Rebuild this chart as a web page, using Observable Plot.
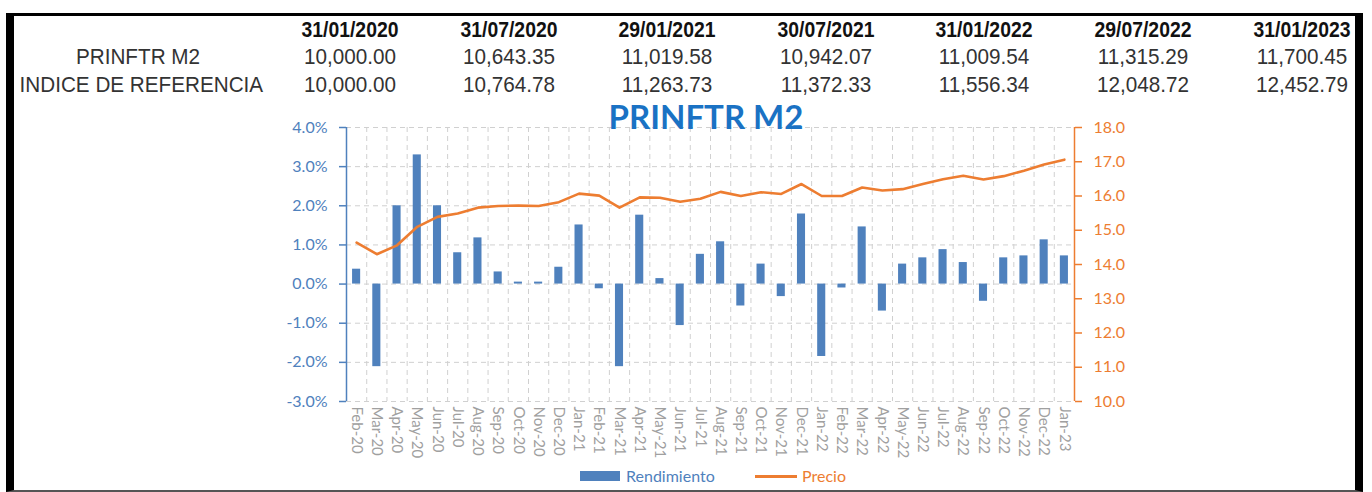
<!DOCTYPE html>
<html>
<head>
<meta charset="utf-8">
<script src="https://cdn.jsdelivr.net/npm/d3@7"></script>
<script src="https://cdn.jsdelivr.net/npm/@observablehq/plot@0.6"></script>
<style>
  html, body { margin: 0; padding: 0; background: #fff; }
  #page { position: relative; width: 1372px; height: 492px; overflow: hidden; background: #fff; }
  #chart { position: absolute; left: 0; top: 0; }
  #frame { position: absolute; left: 6px; top: 13px; width: 1357px; height: 479px; box-sizing: border-box;
           border-left: 8px solid #000; border-right: 8px solid #000; border-top: 3px solid #000; border-bottom: 2px solid #555; pointer-events: none; }
  .cell { position: absolute; width: 160px; text-align: center; font-family: "Liberation Sans", Arial, sans-serif;
          font-size: 22px; line-height: 28px; color: #333; white-space: nowrap; transform: scaleX(0.94); transform-origin: 50% 50%; }
  .hdr { font-weight: bold; color: #111; transform: scaleX(0.88); }
  .rowlab { width: 252px; }
  #title { position: absolute; left: 506px; width: 400px; top: 96px; text-align: center; font-family: Lato, sans-serif; font-weight: bold;
           font-size: 33px; line-height: 40px; color: #1a72c4; }
  .leg { position: absolute; font-family: Lato, sans-serif; font-size: 16px; line-height: 18px; }
</style>
</head>
<body>
<div id="page">
  <div id="chart"></div>
  <div id="table"></div>
  <div id="title">PRINFTR M2</div>
  <div id="legend"></div>
  <div id="frame"></div>
</div>
<script>
// ---- Data ----
const fechas = ["31/01/2020", "31/07/2020", "29/01/2021", "30/07/2021", "31/01/2022", "29/07/2022", "31/01/2023"];
const rowLabels = ["PRINFTR M2", "INDICE DE REFERENCIA"];
const fondoValores = [10000.00, 10643.35, 11019.58, 10942.07, 11009.54, 11315.29, 11700.45];
const indiceValores = [10000.00, 10764.78, 11263.73, 11372.33, 11556.34, 12048.72, 12452.79];

const months = ["Feb-20","Mar-20","Apr-20","May-20","Jun-20","Jul-20","Aug-20","Sep-20","Oct-20","Nov-20","Dec-20",
  "Jan-21","Feb-21","Mar-21","Apr-21","May-21","Jun-21","Jul-21","Aug-21","Sep-21","Oct-21","Nov-21","Dec-21",
  "Jan-22","Feb-22","Mar-22","Apr-22","May-22","Jun-22","Jul-22","Aug-22","Sep-22","Oct-22","Nov-22","Dec-22","Jan-23"];
// Rendimiento (%), left axis
const rendimiento = [0.38, -2.11, 2.00, 3.30, 2.00, 0.80, 1.18, 0.31, 0.05, 0.05, 0.43,
  1.51, -0.12, -2.11, 1.76, 0.14, -1.06, 0.76, 1.08, -0.56, 0.51, -0.32, 1.79,
  -1.85, -0.10, 1.46, -0.69, 0.51, 0.67, 0.88, 0.55, -0.44, 0.67, 0.72, 1.13, 0.72];
// Precio, right axis
const precio = [14.64, 14.30, 14.56, 15.10, 15.39, 15.49, 15.66, 15.71, 15.72, 15.71, 15.82,
  16.07, 16.01, 15.66, 15.96, 15.95, 15.83, 15.92, 16.12, 16.00, 16.11, 16.06, 16.35,
  16.00, 16.00, 16.25, 16.16, 16.20, 16.35, 16.49, 16.59, 16.48, 16.58, 16.74, 16.92, 17.06];

const leftTicks = [-3, -2, -1, 0, 1, 2, 3, 4];
const rightTicks = [10, 11, 12, 13, 14, 15, 16, 17, 18];

// ---- Colors ----
const BLUE = "#4f81bd";
const ORANGE = "#ed7d31";
const GRID = "#d0d0d0";

// ---- Table ----
const fmt = d3.format(",.2f");
const table = document.getElementById("table");
function addCell(text, cls, left, top) {
  const el = document.createElement("div");
  el.className = "cell " + cls;
  el.textContent = text;
  el.style.left = left + "px";
  el.style.top = top + "px";
  table.appendChild(el);
}
const colCenter = i => 350 + i * 158.6;
const rowTops = [16, 42.5, 70.5];
fechas.forEach((f, i) => addCell(f, "hdr", colCenter(i) - 80, rowTops[0]));
addCell(rowLabels[0], "rowlab", 12, rowTops[1]);
addCell(rowLabels[1], "rowlab", 12, rowTops[2]);
fondoValores.forEach((v, i) => addCell(fmt(v), "", colCenter(i) - 80, rowTops[1]));
indiceValores.forEach((v, i) => addCell(fmt(v), "", colCenter(i) - 80, rowTops[2]));

// ---- Chart ----
const W = 1372, H = 492;
const mL = 346, mR = 298, mT = 127, mB = 91;
const step = (W - mL - mR) / months.length;
const toLeft = d3.scaleLinear([10, 18], [-3, 4]);
const data = months.map((m, i) => ({month: m, r: rendimiento[i], p: precio[i]}));

const chart = Plot.plot({
  width: W, height: H,
  marginLeft: mL, marginRight: mR, marginTop: mT, marginBottom: mB,
  style: {fontFamily: "Lato, sans-serif", fontSize: "15px", background: "transparent", overflow: "visible"},
  x: {type: "band", domain: months, paddingInner: 0.6, paddingOuter: 0.3, round: false, axis: null, label: null},
  y: {domain: [-3, 4], axis: null, label: null},
  marks: [
    Plot.gridY(leftTicks, {stroke: GRID, strokeOpacity: 1, strokeDasharray: "5,4"}),
    Plot.ruleX(months.slice(1), {dx: -step / 2, stroke: GRID, strokeOpacity: 1, strokeDasharray: "5,4"}),
    Plot.barY(data, {x: "month", y: "r", fill: BLUE}),
    Plot.lineY(data, {x: "month", y: d => toLeft(d.p), stroke: ORANGE, strokeWidth: 2.6}),
    Plot.ruleX([months[0]], {dx: -step / 2, stroke: BLUE, strokeWidth: 1.5}),
    Plot.ruleX([months[months.length - 1]], {dx: step / 2, stroke: ORANGE, strokeWidth: 1.5}),
    Plot.axisY(leftTicks, {anchor: "left", tickSize: 7, tickPadding: 12, color: BLUE, strokeWidth: 1.5, label: null,
      tickFormat: d => d.toFixed(1) + "%", fontSize: 16}),
    Plot.axisY(rightTicks.map(t => toLeft(t)), {anchor: "right", tickSize: 7, tickPadding: 12, color: ORANGE, strokeWidth: 1.5, label: null,
      tickFormat: v => toLeft.invert(v).toFixed(1), fontSize: 16}),
    Plot.axisX({anchor: "bottom", tickRotate: 90, tickSize: 0, tickPadding: 5, color: "#a0a0a0", fontSize: 15, label: null})
  ]
});
document.getElementById("chart").appendChild(chart);

// ---- Legend ----
const legend = document.getElementById("legend");
legend.innerHTML = `
  <div style="position:absolute;left:580px;top:471px;width:40px;height:10px;background:${BLUE}"></div>
  <div class="leg" style="left:626px;top:467px;color:${BLUE}">Rendimiento</div>
  <div style="position:absolute;left:755px;top:475px;width:42px;height:3px;background:${ORANGE}"></div>
  <div class="leg" style="left:802px;top:467px;color:${ORANGE}">Precio</div>
`;
</script>
</body>
</html>
